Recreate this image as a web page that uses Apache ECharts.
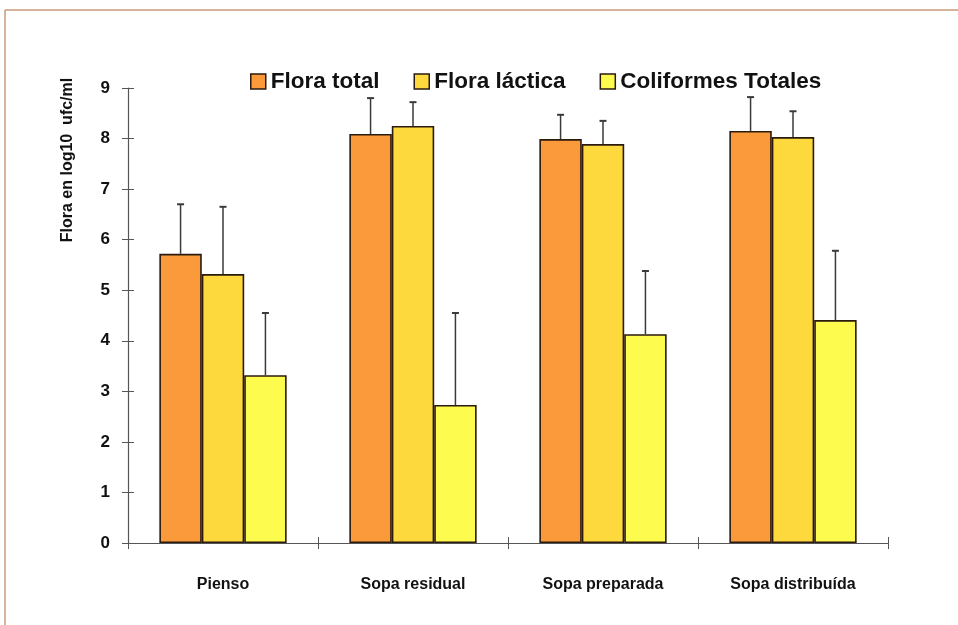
<!DOCTYPE html>
<html>
<head>
<meta charset="utf-8">
<script src="https://cdn.jsdelivr.net/npm/echarts@6/dist/echarts.min.js"></script>
<style>html,body{margin:0;padding:0;background:#fff;}#c{width:958px;height:625px;}</style>
</head>
<body>
<div id="c"></div>
<script>
var categories = ['Pienso', 'Sopa residual', 'Sopa preparada', 'Sopa distribuída'];
var seriesNames = ['Flora total', 'Flora láctica', 'Coliformes Totales'];
var floraTotal = [5.72, 8.09, 7.99, 8.15];
var floraLactica = [5.32, 8.25, 7.89, 8.03];
var coliformes = [3.32, 2.73, 4.13, 4.41];
var sdFloraTotal = [0.98, 0.71, 0.48, 0.67];
var sdFloraLactica = [1.33, 0.47, 0.46, 0.51];
var sdColiformes = [1.23, 1.82, 1.25, 1.37];
var yTicks = [0, 1, 2, 3, 4, 5, 6, 7, 8, 9];
var yTitle = 'Flora en log10  ufc/ml';

var means = [floraTotal, floraLactica, coliformes];
var sds = [sdFloraTotal, sdFloraLactica, sdColiformes];
var colors = ['#FB9A3A', '#FDD93E', '#FDFB4E'];
var FONT = 'Liberation Sans, Arial, sans-serif';
var GAP = 0.33;

var chart = echarts.init(document.getElementById('c'));
var series = [];
means.forEach(function (m, i) {
  series.push({
    name: seriesNames[i], type: 'bar', data: m,
    barGap: '0%', barCategoryGap: '33%',
    itemStyle: { color: colors[i], borderColor: '#2a1a10', borderWidth: 1.6 },
    z: 2
  });
});
means.forEach(function (m, i) {
  series.push({
    type: 'custom', name: 'err' + i,
    data: m.map(function (v, k) { return [k, v, sds[i][k]]; }),
    encode: { x: 0, y: 1 }, z: 5, silent: true,
    renderItem: function (params, api) {
      var k = api.value(0), v = api.value(1), s = api.value(2);
      var band = api.size([1, 0])[0];
      var bw = band * (1 - GAP) / 3;
      var base = api.coord([k, v]);
      var top = api.coord([k, v + s]);
      var x = base[0] + (i - 1) * bw;
      var st = { stroke: '#3a3a3a', lineWidth: 1.5 };
      return { type: 'group', children: [
        { type: 'line', shape: { x1: x, y1: base[1], x2: x, y2: top[1] }, style: st },
        { type: 'line', shape: { x1: x - 3.5, y1: top[1], x2: x + 3.5, y2: top[1] }, style: { stroke: '#3a3a3a', lineWidth: 2 } }
      ]};
    }
  });
});
[1, 2].forEach(function (g) {
  series.push({ type: 'line', xAxisIndex: g, yAxisIndex: g, data: [], silent: true, showSymbol: false });
});

var L = 128, R = 70, T = 88, B = 82, TK = 6;

chart.setOption({
  animation: false,
  backgroundColor: '#fff',
  textStyle: { fontFamily: FONT },
  graphic: [
    { type: 'line', shape: { x1: 5, y1: 10, x2: 958, y2: 10 }, style: { stroke: '#c99a78', lineWidth: 1.5 } },
    { type: 'line', shape: { x1: 5, y1: 10, x2: 5, y2: 625 }, style: { stroke: '#c99a78', lineWidth: 1.5 } },
    { type: 'text', x: 68, y: 160, rotation: Math.PI / 2,
      style: { text: yTitle, font: 'bold 16px Liberation Sans, Arial, sans-serif', fill: '#111', align: 'center', verticalAlign: 'middle' } }
  ],
  legend: {
    data: seriesNames, left: 245, top: 65, itemWidth: 15, itemHeight: 15, itemGap: 34,
    icon: 'rect',
    itemStyle: { borderColor: '#2a1a10', borderWidth: 1.5 },
    textStyle: { fontSize: 22.5, fontWeight: 'bold', color: '#111', fontFamily: FONT, padding: [0, 0, 0, 0] }
  },
  grid: [
    { left: L, right: R, top: T, bottom: B, containLabel: false },
    { left: L + TK, right: R, top: T, bottom: B, containLabel: false },
    { left: L, right: R, top: T - TK, bottom: B + TK, containLabel: false }
  ],
  xAxis: [{
    type: 'category', data: categories, position: 'bottom', gridIndex: 0,
    axisLine: { lineStyle: { color: '#555', width: 1.2 } },
    axisTick: { show: true, length: TK, lineStyle: { color: '#555' } },
    axisLabel: { fontSize: 16, fontWeight: 'bold', color: '#111', margin: 34, fontFamily: FONT }
  }, {
    type: 'category', data: categories, gridIndex: 1, show: false
  }, {
    type: 'category', data: categories, position: 'bottom', gridIndex: 2,
    axisLine: { show: false },
    axisTick: { show: true, length: TK, lineStyle: { color: '#555' } },
    axisLabel: { show: false }
  }],
  yAxis: [{
    type: 'value', min: 0, max: 9, interval: 1, position: 'left', gridIndex: 0,
    axisLine: { show: true, lineStyle: { color: '#555', width: 1.2 } },
    axisTick: { show: true, length: TK, lineStyle: { color: '#555' } },
    splitLine: { show: false },
    axisLabel: { fontSize: 17, fontWeight: 'bold', color: '#111', margin: 18, fontFamily: FONT,
      formatter: function (v) { return yTicks.indexOf(v) >= 0 ? String(v) : ''; } }
  }, {
    type: 'value', min: 0, max: 9, interval: 1, position: 'left', gridIndex: 1,
    axisLine: { show: false },
    axisTick: { show: true, length: TK, lineStyle: { color: '#555' } },
    splitLine: { show: false },
    axisLabel: { show: false }
  }, {
    type: 'value', min: 0, max: 9, interval: 1, gridIndex: 2, show: false
  }],
  series: series
});
</script>
</body>
</html>
